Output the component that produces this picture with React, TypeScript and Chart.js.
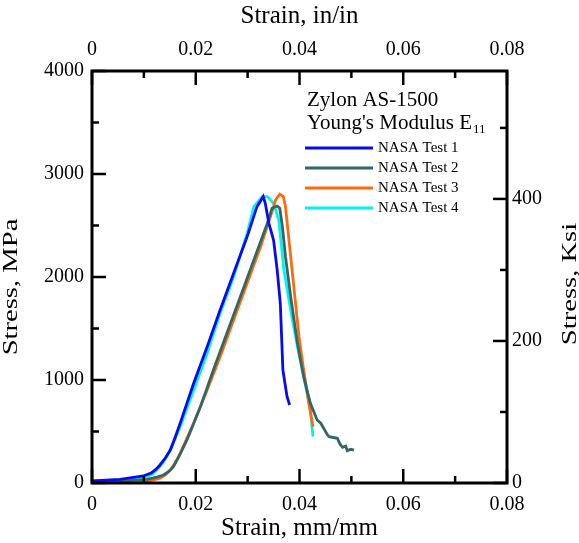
import React, { useEffect, useRef } from "react";
import { Chart, registerables } from "chart.js";

Chart.register(...registerables);

// ---- Data (strain in mm/mm, stress in MPa) ----
const test1Strain = [0, 0.0054, 0.0099, 0.0115, 0.0123, 0.0131, 0.0141, 0.0151, 0.016, 0.017, 0.0196, 0.0222, 0.0247, 0.0273, 0.0299, 0.0318, 0.033, 0.0334, 0.0341, 0.035, 0.0357, 0.0363, 0.0368, 0.0376, 0.0381];
const test1Stress = [20, 36, 68, 100, 132, 175, 240, 320, 440, 580, 968, 1323, 1680, 2036, 2391, 2683, 2780, 2716, 2521, 2359, 2068, 1745, 1097, 838, 757];

const test2Strain = [0, 0.0054, 0.0106, 0.0125, 0.0138, 0.0148, 0.0157, 0.0168, 0.0183, 0.0209, 0.0234, 0.026, 0.0286, 0.0312, 0.0338, 0.0347, 0.0357, 0.0362, 0.0367, 0.0373, 0.0383, 0.0396, 0.0408, 0.0421, 0.0434, 0.0441, 0.0454, 0.0457, 0.0473, 0.0478, 0.0483, 0.0489, 0.0492, 0.0499, 0.0505];
const test2Stress = [10, 15, 36, 58, 78, 112, 158, 260, 417, 741, 1097, 1453, 1809, 2165, 2521, 2667, 2689, 2667, 2488, 2197, 1809, 1356, 1032, 774, 612, 580, 466, 450, 434, 379, 347, 359, 314, 327, 320];

const test3Strain = [0, 0.0054, 0.0106, 0.0131, 0.0142, 0.0151, 0.016, 0.017, 0.0196, 0.0222, 0.0247, 0.0273, 0.0299, 0.0325, 0.0344, 0.0354, 0.0362, 0.0369, 0.0373, 0.0379, 0.0389, 0.0399, 0.0408, 0.0418, 0.0426];
const test3Stress = [-30, -19, 13, 46, 80, 126, 195, 288, 580, 903, 1226, 1583, 1939, 2294, 2586, 2748, 2805, 2780, 2683, 2391, 1906, 1420, 1097, 774, 547];

const test4Strain = [0, 0.0054, 0.0106, 0.0117, 0.0125, 0.0135, 0.0144, 0.0157, 0.017, 0.0196, 0.0222, 0.0247, 0.0273, 0.0299, 0.0312, 0.0328, 0.0338, 0.035, 0.036, 0.037, 0.0383, 0.0396, 0.0408, 0.0421, 0.0426];
const test4Stress = [20, 30, 61, 90, 126, 185, 255, 390, 547, 903, 1259, 1648, 2003, 2424, 2683, 2780, 2780, 2716, 2553, 2068, 1680, 1323, 1032, 709, 450];

const seriesLabels = ["NASA Test 1", "NASA Test 2", "NASA Test 3", "NASA Test 4"];
const seriesColors = ["#0a0af0", "#336666", "#ff6a0a", "#00f4f4"];

// ---- Axes ----
const xTicks = [0, 0.02, 0.04, 0.06, 0.08];
const xTickLabels = ["0", "0.02", "0.04", "0.06", "0.08"];
const xMinorTicks = [0.01, 0.03, 0.05, 0.07];
const yTicks = [0, 1000, 2000, 3000, 4000];
const yTickLabels = ["0", "1000", "2000", "3000", "4000"];
const yMinorTicks = [500, 1500, 2500, 3500];
const ksiTicks = [0, 200, 400];
const ksiTickLabels = ["0", "200", "400"];
const ksiMinorTicks = [100, 300, 500];
const MPA_PER_KSI = 6.894757;

const legendTitle1 = "Zylon AS-1500";
const legendTitle2 = "Young's Modulus E";
const legendTitleSub = "11";
const leftTitle = "Stress, MPa";
const rightTitle = "Stress, Ksi";

const FONT = "'Liberation Serif', 'Times New Roman', serif";

function zip(xs: number[], ys: number[]) {
  return xs.map((x, i) => ({ x, y: ys[i] }));
}

const decorPlugin = {
  id: "decor",
  afterDatasetsDraw(chart: any) {
    const ctx = chart.ctx as CanvasRenderingContext2D;
    const { left, right, top, bottom } = chart.chartArea;
    const xs = chart.scales.x;
    const ys = chart.scales.y;
    const y2s = chart.scales.y2;
    const major = 14;
    const minor = 7;
    ctx.save();
    ctx.strokeStyle = "#000";
    ctx.lineWidth = 3;
    ctx.strokeRect(left, top, right - left, bottom - top);
    ctx.lineWidth = 2.5;
    const seg = (x1: number, y1: number, x2: number, y2: number) => {
      ctx.beginPath();
      ctx.moveTo(x1, y1);
      ctx.lineTo(x2, y2);
      ctx.stroke();
    };
    xTicks.forEach((v) => {
      const p = xs.getPixelForValue(v);
      seg(p, bottom, p, bottom - major);
      seg(p, top, p, top + major);
    });
    xMinorTicks.forEach((v) => {
      const p = xs.getPixelForValue(v);
      seg(p, bottom, p, bottom - minor);
      seg(p, top, p, top + minor);
    });
    yTicks.forEach((v) => {
      const p = ys.getPixelForValue(v);
      seg(left, p, left + major, p);
    });
    yMinorTicks.forEach((v) => {
      const p = ys.getPixelForValue(v);
      seg(left, p, left + minor, p);
    });
    ksiTicks.forEach((v) => {
      const p = y2s.getPixelForValue(v);
      seg(right, p, right - major, p);
    });
    ksiMinorTicks.forEach((v) => {
      const p = y2s.getPixelForValue(v);
      seg(right, p, right - minor, p);
    });
    ctx.restore();
  },
  afterDraw(chart: any) {
    const ctx = chart.ctx as CanvasRenderingContext2D;
    ctx.save();
    ctx.fillStyle = "#000";
    // vertical titles (slightly stretched along reading direction)
    const vTitle = (text: string, cx: number, cy: number) => {
      ctx.save();
      ctx.translate(cx, cy);
      ctx.rotate(-Math.PI / 2);
      ctx.scale(1.3, 1);
      ctx.font = `22px ${FONT}`;
      ctx.textAlign = "center";
      ctx.textBaseline = "middle";
      ctx.fillText(text, 0, 0);
      ctx.restore();
    };
    vTitle(leftTitle, 11, 287);
    vTitle(rightTitle, 570, 284);

    // legend block
    ctx.textAlign = "left";
    ctx.textBaseline = "alphabetic";
    ctx.font = `21px ${FONT}`;
    ctx.fillText(legendTitle1, 307, 106);
    ctx.fillText(legendTitle2, 307, 129);
    const w = ctx.measureText(legendTitle2).width;
    ctx.font = `13px ${FONT}`;
    ctx.fillText(legendTitleSub, 307 + w + 1, 133);

    ctx.font = `15px ${FONT}`;
    ctx.textBaseline = "middle";
    chart.data.datasets.forEach((ds: any, i: number) => {
      const yy = 148 + i * 20;
      ctx.strokeStyle = ds.borderColor;
      ctx.lineWidth = 3;
      ctx.beginPath();
      ctx.moveTo(305, yy);
      ctx.lineTo(373, yy);
      ctx.stroke();
      ctx.fillStyle = "#000";
      ctx.fillText(ds.label, 378, yy + 0.5);
    });
    ctx.restore();
  },
};

export default function App() {
  const canvasRef = useRef<HTMLCanvasElement | null>(null);

  useEffect(() => {
    const canvas = canvasRef.current;
    if (!canvas) return;
    const tickFont = { family: FONT, size: 20 };
    const titleFont = { family: FONT, size: 25 };
    const series = [
      zip(test1Strain, test1Stress),
      zip(test2Strain, test2Stress),
      zip(test3Strain, test3Stress),
      zip(test4Strain, test4Stress),
    ];
    const chart = new Chart(canvas, {
      type: "line",
      data: {
        datasets: series.map((d, i) => ({
          label: seriesLabels[i],
          data: d,
          borderColor: seriesColors[i],
          backgroundColor: seriesColors[i],
          borderWidth: 2.8,
          pointRadius: 0,
          tension: 0,
          fill: false,
          xAxisID: "x",
          yAxisID: "y",
        })),
      },
      options: {
        responsive: false,
        animation: false,
        devicePixelRatio: 1,
        layout: { padding: 0 },
        plugins: {
          legend: { display: false },
          tooltip: { enabled: false },
        },
        scales: {
          x: {
            type: "linear",
            position: "bottom",
            min: 0,
            max: 0.08,
            grid: { display: false, drawTicks: false },
            border: { display: false },
            ticks: {
              font: tickFont,
              color: "#000",
              padding: 10,
              maxRotation: 0,
              autoSkip: false,
              callback: (v: any) => xTickLabels[xTicks.indexOf(Number(v))] ?? "",
            },
            afterBuildTicks: (s: any) => {
              s.ticks = xTicks.map((v) => ({ value: v }));
            },
            afterFit: (s: any) => {
              s.height = 60;
            },
            title: {
              display: true,
              text: "Strain, mm/mm",
              font: titleFont,
              color: "#000",
              padding: { top: 0, bottom: 0 },
            },
          },
          x2: {
            type: "linear",
            position: "top",
            min: 0,
            max: 0.08,
            grid: { display: false, drawTicks: false },
            border: { display: false },
            ticks: {
              font: tickFont,
              color: "#000",
              padding: 9,
              maxRotation: 0,
              autoSkip: false,
              callback: (v: any) => xTickLabels[xTicks.indexOf(Number(v))] ?? "",
            },
            afterBuildTicks: (s: any) => {
              s.ticks = xTicks.map((v) => ({ value: v }));
            },
            afterFit: (s: any) => {
              s.height = 71;
            },
            title: {
              display: true,
              text: "Strain, in/in",
              font: titleFont,
              color: "#000",
              padding: { top: 1, bottom: 0 },
            },
          },
          y: {
            type: "linear",
            position: "left",
            min: 0,
            max: 4000,
            grid: { display: false, drawTicks: false },
            border: { display: false },
            ticks: {
              font: tickFont,
              color: "#000",
              padding: 8,
              autoSkip: false,
              callback: (v: any) => yTickLabels[yTicks.indexOf(Number(v))] ?? "",
            },
            afterBuildTicks: (s: any) => {
              s.ticks = yTicks.map((v) => ({ value: v }));
            },
            afterFit: (s: any) => {
              s.width = 92;
            },
          },
          y2: {
            type: "linear",
            position: "right",
            min: 0,
            max: 4000 / MPA_PER_KSI,
            grid: { display: false, drawTicks: false },
            border: { display: false },
            ticks: {
              font: tickFont,
              color: "#000",
              padding: 5,
              autoSkip: false,
              callback: (v: any) => ksiTickLabels[ksiTicks.indexOf(Number(v))] ?? "",
            },
            afterBuildTicks: (s: any) => {
              s.ticks = ksiTicks.map((v) => ({ value: v }));
            },
            afterFit: (s: any) => {
              s.width = 72;
            },
          },
        },
      },
      plugins: [decorPlugin],
    } as any);
    return () => chart.destroy();
  }, []);

  return (
    <div style={{ position: "fixed", left: 0, top: 0, width: 579, height: 543, background: "#fff" }}>
      <canvas ref={canvasRef} width={579} height={543} style={{ width: 579, height: 543, display: "block" }} />
    </div>
  );
}
